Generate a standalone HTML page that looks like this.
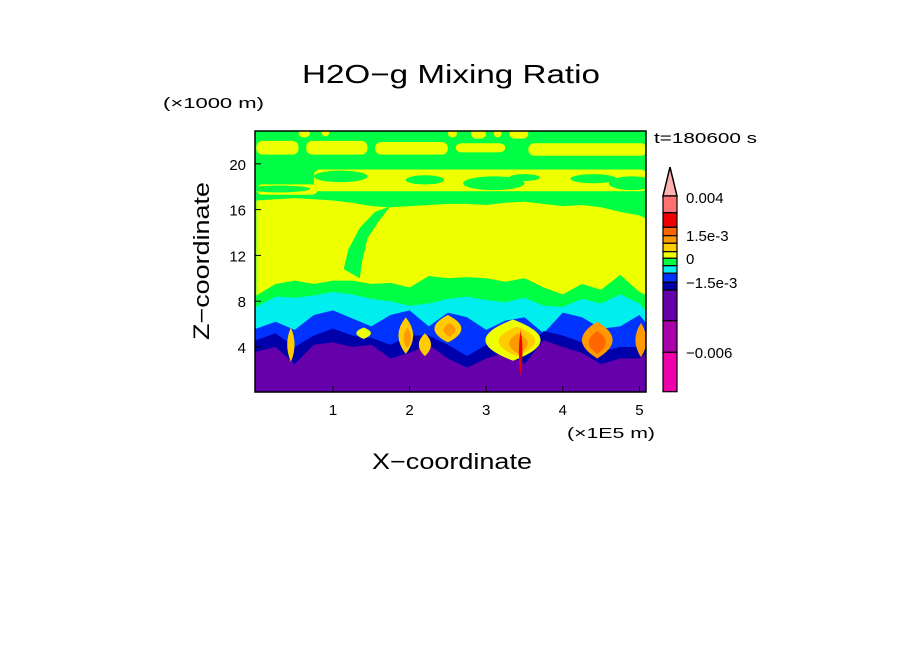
<!DOCTYPE html>
<html><head><meta charset="utf-8"><style>
body{margin:0;background:#fff;}
svg text{font-family:"Liberation Sans",sans-serif;fill:#000;}
</style></head><body>
<svg id="chart" width="904" height="654" viewBox="0 0 904 654" xmlns="http://www.w3.org/2000/svg">
<rect width="904" height="654" fill="#fff"/>
<text x="302" y="83" font-size="26" textLength="298" lengthAdjust="spacingAndGlyphs">H2O−g Mixing Ratio</text>
<text x="163" y="108" font-size="15" textLength="101" lengthAdjust="spacingAndGlyphs">(×1000 m)</text>
<text x="654" y="143" font-size="15" textLength="103" lengthAdjust="spacingAndGlyphs">t=180600 s</text>
<text x="567" y="438" font-size="15" textLength="88" lengthAdjust="spacingAndGlyphs">(×1E5 m)</text>
<text x="372" y="469" font-size="22" textLength="160" lengthAdjust="spacingAndGlyphs">X−coordinate</text>
<text transform="translate(209,340) rotate(-90)" font-size="22" textLength="158" lengthAdjust="spacingAndGlyphs">Z−coordinate</text>
<defs><clipPath id="pc"><rect x="255" y="131" width="391" height="261"/></clipPath></defs>
<g id="field" clip-path="url(#pc)"></g>
<rect x="255" y="131" width="391" height="261" fill="none" stroke="#000" stroke-width="1.5"/>
<g id="axes"></g>
<g id="cbar"></g>
</svg>
<script>
const xs=[0,0.25,0.5,0.75,1,1.25,1.5,1.75,2,2.25,2.5,2.75,3,3.25,3.5,3.75,4,4.25,4.5,4.75,5,5.1];
const yellowTop=[16.8,16.9,17,16.9,16.8,16.6,16.3,16.2,16.3,16.4,16.5,16.5,16.4,16.6,16.7,16.5,16.3,16.4,16.2,15.8,15.5,15.2];
const yellowBottom=[8.5,9.5,9.8,9.5,9.8,9.8,9.5,9.6,9.2,10.2,10.0,10.1,10.0,9.7,10.0,9.2,8.6,9.5,9.0,10.3,8.8,8.5];
const cyanTop=[7.5,8.4,8.3,8.5,8.8,8.6,8.2,8.0,7.6,7.8,8.2,8.4,8.1,7.9,8.3,7.6,7.5,8.2,7.8,8.6,7.8,7.0];
const blueTop=[5.6,6.2,5.5,6.8,7.2,6.5,5.8,6.8,7.2,5.8,7.0,6.6,5.5,6.3,6.6,5.2,7.0,6.6,5.6,5.8,6.8,6.0];
const darkBlueTop=[4.6,5.2,4.0,5.0,5.6,5.0,4.8,4.2,5.0,5.0,4.2,3.2,4.2,4.4,3.6,5.4,5.0,4.4,3.6,4.0,4.0,4.4];
const purpleTop=[3.6,4.0,2.5,4.2,4.4,4.0,4.2,3.0,3.5,4.2,3.0,2.2,3.0,3.5,2.5,4.6,4.0,3.5,2.5,3.0,3.0,3.5];
const stemX=[1.14,1.2,1.35,1.55,1.75,1.6,1.45,1.38,1.35];
const stemZ=[10.8,12.5,14.4,15.8,16.3,15.0,13.5,11.5,10.0];
const upperYellow=[[0,0.8,17.3,18.2],[0.75,5.1,17.6,19.5],[0,0.55,20.8,22.0],[0.65,1.45,20.8,22.0],[1.55,2.5,20.8,21.9],[2.6,3.25,21.0,21.8],[3.55,5.1,20.7,21.8],[0.55,0.7,22.3,23],[0.85,0.95,22.4,23],[2.5,2.62,22.3,23],[2.8,3.0,22.2,23],[3.1,3.2,22.3,23],[3.3,3.55,22.2,23]];
const greenHoles=[[1.1,18.9,0.35,0.5],[2.2,18.6,0.25,0.4],[3.1,18.3,0.4,0.6],[3.5,18.8,0.2,0.3],[4.4,18.7,0.3,0.4],[4.9,18.3,0.3,0.6],[0.3,17.8,0.4,0.3]];
// warm plumes [x,z,rx,rz,level]
const blobs=[[1.95,5.0,0.12,1.6,1],[1.97,4.8,0.06,0.9,2],[2.5,5.6,0.22,1.2,1],[2.52,5.5,0.1,0.6,2],[3.35,4.6,0.45,1.8,0],[3.4,4.5,0.3,1.3,1],[3.42,4.3,0.15,0.9,2],[3.45,3.5,0.03,2.0,4],[4.45,4.6,0.25,1.6,2],[4.45,4.4,0.14,1.0,3],[5.02,4.6,0.09,1.5,2],[0.45,4.2,0.06,1.5,1],[1.4,5.2,0.12,0.5,0],[2.2,4.2,0.1,1.0,1]];
const cbLevels=["#ffb0b0","#ff7070","#ee0000","#ff6600","#ff9900","#ffcc00","#eeff00","#00ff44","#00eeee","#0033ff","#0000aa","#6600aa","#aa00aa","#ee00aa"];
const cbBounds=[196,212.7,227.3,235.7,243.3,251.7,258.3,265.7,273.3,282.3,290,320.7,352.3,391.7];
const cbLabels=["0.004","1.5e-3","0","−1.5e-3","−0.006"];
const cbLabelY=[197,235,258,282,352];
const xTicks=[1,2,3,4,5];
const zTicks=[4,8,12,16,20];
const NS="http://www.w3.org/2000/svg";
const X=v=>256.4+76.6*v, Z=v=>392.8-11.45*v;
const field=document.getElementById('field');
function mk(tag,attrs,parent){const e=document.createElementNS(NS,tag);for(const k in attrs)e.setAttribute(k,attrs[k]);parent.appendChild(e);return e;}
const C={green:"#00ff44",yellow:"#eeff00",cyan:"#00eeee",blue:"#0033ff",dark:"#0000aa",purple:"#6600aa"};
let e=mk('rect',{x:250,y:125,width:400,height:270,fill:C.green},field);


upperYellow.forEach(r=>{const p=mk('rect',{x:X(r[0]),y:Z(r[3]),width:X(r[1])-X(r[0]),height:Z(r[2])-Z(r[3]),rx:6,fill:C.yellow},field);

});
greenHoles.forEach(h=>{const p=mk('ellipse',{cx:X(h[0]),cy:Z(h[1]),rx:h[2]*76.6,ry:h[3]*11.45,fill:C.green},field);

});
let d='M'+xs.map((x,i)=>X(x)+','+Z(yellowTop[i])).join(' L')+' L'+xs.slice().reverse().map((x,i)=>X(x)+','+Z(yellowBottom[xs.length-1-i])).join(' L')+'Z';
e=mk('path',{d:d,fill:C.yellow},field);


e=mk('path',{d:'M'+stemX.map((x,i)=>X(x)+','+Z(stemZ[i])).join(' L')+'Z',fill:C.green},field);


[[cyanTop,C.cyan,'cyan-layer'],[blueTop,C.blue,'blue-layer'],[darkBlueTop,C.dark,'dark-blue-layer'],[purpleTop,C.purple,'purple-layer']].forEach(([arr,col,nm])=>{
  const dd='M'+X(-0.2)+','+Z(-1)+' L'+X(-0.2)+','+Z(arr[0])+' L'+xs.map((x,i)=>X(x)+','+Z(arr[i])).join(' L')+' L'+X(5.3)+','+Z(arr[arr.length-1])+' L'+X(5.3)+','+Z(-1)+'Z';
  const p=mk('path',{d:dd,fill:col},field);
  
  
});
const blobCols=["#eeff00","#ffcc00","#ff9900","#ff6600","#ee0000"];
blobs.forEach(b=>{
  const cx=X(b[0]),top=Z(b[1]+b[3]),bot=Z(b[1]-b[3]),cy=Z(b[1]),w=b[2]*76.6*1.6;
  const p=mk('path',{d:`M${cx},${bot} Q${cx+w},${cy} ${cx},${top} Q${cx-w},${cy} ${cx},${bot}Z`,fill:blobCols[b[4]]},field);
  
  });
const axes=document.getElementById('axes');
xTicks.forEach(t=>{const l=mk('line',{x1:X(t),x2:X(t),y1:392,y2:386,stroke:'#000'},axes);


const tx=mk('text',{x:X(t),y:415,'font-size':15,'text-anchor':'middle'},axes);tx.textContent=t;

});
zTicks.forEach(t=>{const l=mk('line',{x1:255,x2:261,y1:Z(t),y2:Z(t),stroke:'#000'},axes);


const tx=mk('text',{x:246,y:Z(t)+6,'font-size':15,'text-anchor':'end'},axes);tx.textContent=t;

});
const cb=document.getElementById('cbar');
e=mk('path',{d:'M663,196 L670,167 L677,196 Z',fill:cbLevels[0],stroke:'#000','stroke-width':1.5},cb);


for(let i=1;i<cbLevels.length;i++){const r=mk('rect',{x:663,y:cbBounds[i-1],width:14,height:cbBounds[i]-cbBounds[i-1],fill:cbLevels[i],stroke:'#000','stroke-width':1.2},cb);

}
cbLabels.forEach((s,i)=>{const tx=mk('text',{x:686,y:cbLabelY[i]+6,'font-size':15},cb);tx.textContent=s;

});
</script>
</body></html>
